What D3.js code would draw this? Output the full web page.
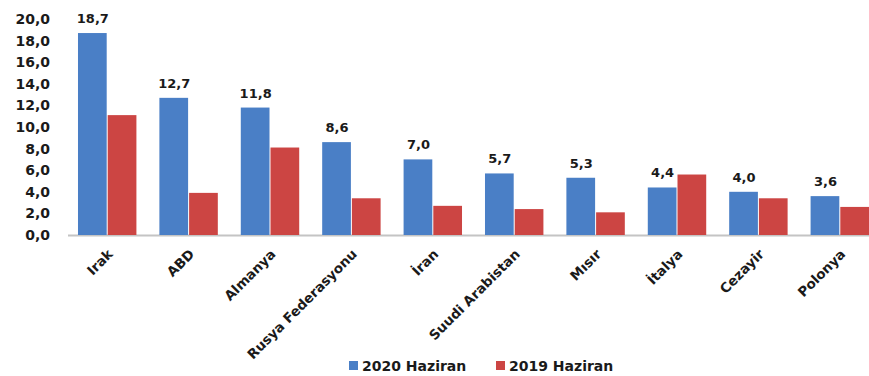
<!DOCTYPE html>
<html><head><meta charset="utf-8">
<script src="https://cdn.jsdelivr.net/npm/d3@7"></script>
<style>body{margin:0;background:#fff}svg{display:block}text{font-family:"DejaVu Sans",sans-serif;font-weight:bold;fill:#1a1a1a}</style>
</head><body>
<svg id="c" width="869" height="376"></svg>
<script>
const categories = ["Irak","ABD","Almanya","Rusya Federasyonu","İran","Suudi Arabistan","Mısır","İtalya","Cezayir","Polonya"];
const series2020 = [18.7,12.7,11.8,8.6,7.0,5.7,5.3,4.4,4.0,3.6];
const series2019 = [11.1,3.9,8.1,3.4,2.7,2.4,2.1,5.6,3.4,2.6];
const seriesNames = ["2020 Haziran","2019 Haziran"];
const yTicks = [0,2,4,6,8,10,12,14,16,18,20];
const colors = ["#4a7fc6","#cc4543"];

const svg = d3.select("#c");
const y = d3.scaleLinear().domain([0,20]).range([235,19]);
const x = d3.scaleBand().domain(categories).range([67,881]).paddingInner(0.27).paddingOuter(0.135);
const xs = d3.scaleBand().domain([0,1]).range([0,x.bandwidth()]);
const fmt = v => d3.format(".1f")(v).replace(".",",");

// y axis labels
const yAxis = d3.axisLeft(y).tickValues(yTicks).tickFormat(fmt).tickSize(0).tickPadding(0);
const ga = svg.append("g").attr("transform","translate(50,0)").call(yAxis);
ga.select(".domain").remove();
ga.selectAll("text").style("font-size","14px").attr("fill","#1a1a1a").style("font-family","DejaVu Sans").style("font-weight","bold");

// baseline
svg.append("line").attr("x1",68).attr("x2",869).attr("y1",y(0)+0.5).attr("y2",y(0)+0.5).attr("stroke","#c4c4c4").attr("stroke-width",2);

const data = categories.map((c,i)=>({c, v:[series2020[i],series2019[i]]}));
const g = svg.append("g").selectAll("g").data(data).join("g").attr("transform",d=>`translate(${x(d.c)},0)`);
g.selectAll("rect").data(d=>d.v).join("rect")
  .attr("x",(d,i)=>xs(i)).attr("width",xs.bandwidth()-1)
  .attr("y",d=>y(d)).attr("height",d=>y(0)-y(d)).attr("fill",(d,i)=>colors[i]);
g.append("text").attr("x",xs(0)+xs.bandwidth()/2).attr("y",d=>y(d.v[0])-10)
  .attr("text-anchor","middle").style("font-size","13px").text(d=>fmt(d.v[0]));

// category labels
svg.append("g").selectAll("text").data(categories).join("text")
  .attr("transform",d=>`translate(${x(d)+x.bandwidth()/2+6},255) rotate(-45)`)
  .attr("text-anchor","end").style("font-size","13.5px").text(d=>d);

// legend
const leg = [{x:349},{x:496}];
seriesNames.forEach((n,i)=>{
  svg.append("rect").attr("x",leg[i].x).attr("y",361).attr("width",9).attr("height",9).attr("fill",colors[i]);
  svg.append("text").attr("x",leg[i].x+13).attr("y",371).style("font-size","14px").text(n);
});
</script>
</body></html>
